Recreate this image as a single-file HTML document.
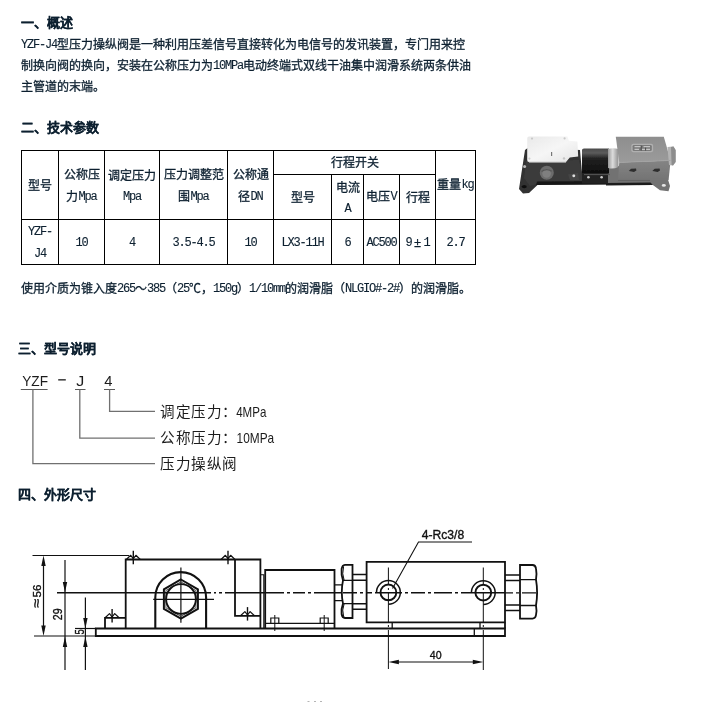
<!DOCTYPE html>
<html lang="zh-CN">
<head>
<meta charset="utf-8">
<title>YZF-J4型压力操纵阀</title>
<style>
html,body{margin:0;padding:0;background:#fff;}
#pg{position:absolute;left:0;top:0;width:721px;height:702px;will-change:transform;transform:translateZ(0);}
body{width:721px;height:702px;position:relative;overflow:hidden;
  font-family:"Liberation Sans",sans-serif;font-size:12px;color:#0d2030;-webkit-text-stroke:0.3px #0d2030;}
.abs{position:absolute;white-space:nowrap;}
h3{position:absolute;margin:0;left:21px;font-size:13px;line-height:16px;font-weight:bold;white-space:nowrap;color:#0d2030;-webkit-text-stroke:0.2px #0d2030;}
p.t{position:absolute;margin:0;left:21px;line-height:21px;white-space:nowrap;}
p.t span.l{display:block;height:21px;}
.m{font-family:"Liberation Mono",monospace;font-size:12px;letter-spacing:-1.2px;-webkit-text-stroke:0.12px #0d2030;position:relative;top:-1px;}
/* table */
.tb{position:absolute;left:21px;top:150px;width:455px;height:115px;}
.tb i{position:absolute;background:#000;display:block;}
.c{position:absolute;box-sizing:border-box;padding-top:3px;text-align:center;line-height:22px;white-space:nowrap;display:flex;align-items:center;justify-content:center;flex-direction:column;}
.c > span{display:block;}
.pm{display:inline-block;width:12px;text-align:center;}
svg{position:absolute;left:0;top:0;}
</style>
</head>
<body>
<div id="pg">

<h3 style="top:15px">一、概述</h3>
<p class="t" style="top:35px">
<span class="l"><span class="m">YZF-J4</span>型压力操纵阀是一种利用压差信号直接转化为电信号的发讯装置，专门用来控</span>
<span class="l">制换向阀的换向，安装在公称压力为<span class="m">10MPa</span>电动终端式双线干油集中润滑系统两条供油</span>
<span class="l">主管道的末端。</span>
</p>

<h3 style="top:120px">二、技术参数</h3>

<div class="tb">
  <i style="left:0;top:0;width:455px;height:1px"></i>
  <i style="left:252px;top:24px;width:163px;height:1px"></i>
  <i style="left:0;top:69px;width:455px;height:1px"></i>
  <i style="left:0;top:114px;width:455px;height:1px"></i>
  <i style="left:0px;top:0;width:1px;height:115px"></i>
  <i style="left:37px;top:0;width:1px;height:115px"></i>
  <i style="left:83px;top:0;width:1px;height:115px"></i>
  <i style="left:138px;top:0;width:1px;height:115px"></i>
  <i style="left:206px;top:0;width:1px;height:115px"></i>
  <i style="left:252px;top:0;width:1px;height:115px"></i>
  <i style="left:310px;top:24px;width:1px;height:91px"></i>
  <i style="left:342px;top:24px;width:1px;height:91px"></i>
  <i style="left:378px;top:24px;width:1px;height:91px"></i>
  <i style="left:414px;top:0;width:1px;height:115px"></i>
  <i style="left:454px;top:0;width:1px;height:115px"></i>
  <div class="c" style="left:1px;top:1px;width:36px;height:68px;padding-top:1px"><span>型号</span></div>
  <div class="c" style="left:38px;top:1px;width:45px;height:68px"><span>公称压</span><span>力<span class="m">Mpa</span></span></div>
  <div class="c" style="left:84px;top:1px;width:54px;height:68px"><span>调定压力</span><span class="m">Mpa</span></div>
  <div class="c" style="left:139px;top:1px;width:67px;height:68px"><span>压力调整范</span><span>围<span class="m">Mpa</span></span></div>
  <div class="c" style="left:207px;top:1px;width:45px;height:68px"><span>公称通</span><span>径<span class="m">DN</span></span></div>
  <div class="c" style="left:253px;top:1px;width:161px;height:23px;padding-top:1px"><span>行程开关</span></div>
  <div class="c" style="left:253px;top:25px;width:57px;height:44px;padding-top:1px"><span>型号</span></div>
  <div class="c" style="left:311px;top:25px;width:31px;height:44px"><span>电流</span><span class="m">A</span></div>
  <div class="c" style="left:343px;top:25px;width:35px;height:44px;padding-top:1px"><span>电压<span class="m">V</span></span></div>
  <div class="c" style="left:379px;top:25px;width:35px;height:44px;padding-top:1px"><span>行程</span></div>
  <div class="c" style="left:415px;top:1px;width:39px;height:68px;padding-top:1px"><span>重量<span class="m">kg</span></span></div>
  <div class="c" style="left:1px;top:70px;width:36px;height:44px"><span class="m">YZF-</span><span class="m">J4</span></div>
  <div class="c" style="left:38px;top:70px;width:45px;height:44px"><span class="m">10</span></div>
  <div class="c" style="left:84px;top:70px;width:54px;height:44px"><span class="m">4</span></div>
  <div class="c" style="left:139px;top:70px;width:67px;height:44px"><span class="m">3.5-4.5</span></div>
  <div class="c" style="left:207px;top:70px;width:45px;height:44px"><span class="m">10</span></div>
  <div class="c" style="left:253px;top:70px;width:57px;height:44px"><span class="m">LX3-11H</span></div>
  <div class="c" style="left:311px;top:70px;width:31px;height:44px"><span class="m">6</span></div>
  <div class="c" style="left:343px;top:70px;width:35px;height:44px"><span class="m">AC500</span></div>
  <div class="c" style="left:379px;top:70px;width:35px;height:44px"><span><span class="m">9</span><span class="pm">±</span><span class="m">1</span></span></div>
  <div class="c" style="left:415px;top:70px;width:39px;height:44px"><span class="m">2.7</span></div>
</div>

<p class="t" style="top:279px"><span class="l">使用介质为锥入度<span class="m">265</span>～<span class="m">385</span>（<span class="m">25</span>℃，<span class="m">150g</span>）<span class="m">1/10mm</span>的润滑脂（<span class="m">NLGIO#-2#</span>）的润滑脂。</span></p>

<h3 style="top:341px;left:18px">三、型号说明</h3>


<!-- model designation diagram -->
<svg id="dg" width="721" height="702" viewBox="0 0 721 702" style="font-family:'Liberation Sans',sans-serif">
  <g fill="#1c1c1c">
    <text x="22.2" y="385.7" font-size="15" textLength="25.8" lengthAdjust="spacingAndGlyphs">YZF</text>
    <rect x="58.2" y="379.2" width="7.6" height="1.3"/>
    <text x="76.3" y="385.7" font-size="15" textLength="8" lengthAdjust="spacingAndGlyphs">J</text>
    <text x="104.2" y="385.7" font-size="15" textLength="8.2" lengthAdjust="spacingAndGlyphs">4</text>
  </g>
  <g stroke="#5a5a5a" stroke-width="1.2" fill="none">
    <path d="M20.8 389.5H47.6M75 389.5H85.5M104 389.5H115"/>
  </g>
  <g stroke="#707070" stroke-width="1.3" fill="none">
    <path d="M32.9 389.5V463.6H155"/>
    <path d="M79.8 389.5V438.2H155"/>
    <path d="M109.6 389.5V411.4H155"/>
  </g>
  <g fill="#1c1c1c" font-size="14.6">
    <text y="417" x="160 175.5 191 206.5 222">调定压力：</text>
    <text y="416.8" x="236.2" font-size="14.6" textLength="30.2" lengthAdjust="spacingAndGlyphs">4MPa</text>
    <text y="443" x="160 175.5 191 206.5 222">公称压力：</text>
    <text y="442.8" x="236.6" font-size="14.6" textLength="37.6" lengthAdjust="spacingAndGlyphs">10MPa</text>
    <text y="469" x="160 175.5 191 206.5 222">压力操纵阀</text>
  </g>
  <path d="M307.5 701.5h2M314 701.5h2M320 701.5h2" stroke="#b5b5b5" stroke-width="1" fill="none"/>
</svg>

<h3 style="top:487px;left:18px">四、外形尺寸</h3>


<!-- outline dimension drawing -->
<svg id="dw" width="721" height="702" viewBox="0 0 721 702" style="font-family:'Liberation Sans',sans-serif">
  <g stroke="#111" fill="none" stroke-width="1.2">
    <path d="M32.5 555.5H129"/>
    <path d="M34 636H96"/>
    <path d="M75 628.5H96"/>
    <path d="M43.5 560V631"/>
    <path d="M65 560V670"/>
    <path d="M85.4 597.5V670"/>
    <path d="M57 592.8H211M214 592.8h2M219 592.8h3M225 592.8H284" stroke-width="1.5"/>
    <path d="M287 592.8h3M293 592.8H305M308 592.8h3M314 592.8H341" stroke-width="1.4"/>
    <path d="M343 592.8H357M360 592.8h3M366 592.8H372M375 592.8H402M405 592.8h3M411 592.8H425M428 592.8h3M434 592.8H452M455 592.8h3M461 592.8H505" stroke-width="1.4"/>
    <path d="M505 592.8H513M516 592.8h3M522 592.8H536" stroke-width="1.3"/>
    <path d="M153.2 599.3H214"/>
    <path d="M180.9 567.4V622.7"/>
    <path d="M388.4 567.5V585M388.4 588v2M388.4 593V622M388.4 625v2M388.4 630V669" stroke-width="1"/>
    <path d="M483.3 567.5V585M483.3 588v2M483.3 593V622M483.3 625v2M483.3 630V670" stroke-width="1"/>
    <path d="M472 542H418.5L392.5 588.5" stroke-width="1.1"/>
    <path d="M394 662H478"/>
  </g>
  <g fill="#111" stroke="none">
    <path d="M43.5 555.5L41.3 566L45.7 566Z"/><path d="M43.5 636L41.3 625.5L45.7 625.5Z"/>
    <path d="M65 592.6L62.8 582.1L67.2 582.1Z"/><path d="M65 636.6L62.8 647.1L67.2 647.1Z"/>
    <path d="M85.4 628.5L83.2 618L87.6 618Z"/><path d="M85.4 636.6L83.2 647.1L87.6 647.1Z"/>
    <path d="M388.4 662L398.9 659.8L398.9 664.2Z"/><path d="M483.3 662L472.8 659.8L472.8 664.2Z"/>
  </g>
  <g stroke="#111" fill="none" stroke-width="1.8" stroke-linejoin="miter">
    <path d="M95.8 628.5H505V636H95.8Z"/>
    <path d="M105 628.5V617.8H125.7"/>
    <path d="M125.7 628.5V559.5H260.4V628.5"/>
    <path d="M235 559.5V615.8H260.4"/>
    <path d="M155.3 628.5V597.5A25.4 25.4 0 0 1 206.1 597.5V628.5" stroke-width="2.1"/>
    <path d="M180.9 579.5L197.9 589.3L197.9 608.9L180.9 618.7L163.9 608.9L163.9 589.3Z" stroke-width="2"/>
    <path d="M180.9 581.8L195.9 590.5L195.9 607.8L180.9 616.4L165.9 607.8L165.9 590.5Z" stroke-width="0.7"/>
    <circle cx="181" cy="599" r="14.9" stroke-width="1.9"/>
    <path d="M260.4 574.7H263.8V628.5" stroke-width="1.1"/>
    <path d="M265.2 628.5V570H334.5V628.5"/>
    <path d="M265.2 623.4H334.5" stroke-width="1.2"/>
    <path d="M270.8 623V618H278.8V623M320.2 623V618H328.2V623" stroke-width="1.2"/>
    <path d="M274.8 615V631M324.2 615V631" stroke-width="1"/>
    <path d="M334.5 584.8H342M334.5 600.6H342" stroke-width="1.3"/>
    <path d="M352.5 564.8H345Q342.2 565 341.6 569Q341 575 343 580.4Q340.6 592 343 603.6Q341 609 341.6 614Q342.2 617.8 345 618H352.5Z"/>
    <path d="M343.6 566.5Q341.6 574 344.2 580.4M344.2 603.6Q341.6 610 343.6 616.5" stroke-width="1"/>
    <path d="M343 580.4H352.5M343 603.6H352.5" stroke-width="1.3"/>
    <path d="M352.5 574.6H366.5M352.5 580.2H366.5M352.5 603.8H366.5M352.5 609.3H366.5" stroke-width="1.5"/>
    <path d="M366.6 561.9H505V622.4H366.6Z"/>
    <path d="M392.2 622.4V628.5M480 622.4V628.5M474.3 628.5V636" stroke-width="1.3"/>
    <path d="M505 622.4V628.5"/>
    <circle cx="388.4" cy="592.4" r="7.9" stroke-width="1.9"/>
    <path d="M376.5 592.4A11.9 11.9 0 1 1 388.4 604.3" stroke-width="1.5"/>
    <circle cx="483.3" cy="592.6" r="7.9" stroke-width="1.9"/>
    <path d="M471.4 592.6A11.9 11.9 0 1 1 483.3 604.5" stroke-width="1.5"/>
    <path d="M505 575H520M505 580.5H520M505 605H520M505 610.5H520" stroke-width="1.3"/>
    <path d="M520 565H532.5Q535.5 565 536 568.5Q537 574 536 579.7Q538.2 592.5 536 605.5Q537 611 536 615Q535.5 618.6 532.5 618.6H520Z"/>
    <path d="M520 579.7H536M520 605.5H536" stroke-width="1.3"/>
    <path d="M126.3 559.5L130.7 555.3L133.3 558.7L135.9 555.3L140.3 559.5" stroke-width="1.2" stroke-linejoin="round"/><path d="M133.3 550.8V564.3" stroke-width="1.4"/>
    <path d="M221 559.5L225.4 555.3L228 558.7L230.6 555.3L235 559.5" stroke-width="1.2" stroke-linejoin="round"/><path d="M228 550.8V564.3" stroke-width="1.4"/>
    <path d="M240.5 615.8L244.9 611.6L247.5 615L250.1 611.6L254.5 615.8" stroke-width="1.2" stroke-linejoin="round"/><path d="M247.5 607.1V620.6" stroke-width="1.4"/>
    <path d="M105.1 617.8L109.5 613.6L112.1 617L114.7 613.6L119.1 617.8" stroke-width="1.2" stroke-linejoin="round"/><path d="M112.1 609.1V622.6" stroke-width="1.4"/>
  </g>
  <g fill="#111" stroke="#111" stroke-width="0.35">
    <text x="421.8" y="538.8" font-size="12" textLength="42.4" lengthAdjust="spacingAndGlyphs">4-Rc3/8</text>
    <text x="429.8" y="658.9" font-size="11.6" textLength="11.8" lengthAdjust="spacingAndGlyphs">40</text>
    <text transform="translate(41.4,607.8) rotate(-90)" font-size="13.5" textLength="9" lengthAdjust="spacingAndGlyphs">≈</text>
    <text transform="translate(41.4,597.4) rotate(-90)" font-size="11" textLength="12.8" lengthAdjust="spacingAndGlyphs">56</text>
    <text transform="translate(61.5,620.2) rotate(-90)" font-size="12.4" textLength="11.8" lengthAdjust="spacingAndGlyphs">29</text>
    <text transform="translate(83.6,634.6) rotate(-90)" font-size="12.4" textLength="5.2" lengthAdjust="spacingAndGlyphs">5</text>
  </g>
</svg>
<!-- product photo (vector approximation) -->
<svg id="ph" width="721" height="702" viewBox="0 0 721 702">
  <defs>
    <filter id="b1" x="-10%" y="-20%" width="120%" height="140%"><feGaussianBlur stdDeviation="0.55"/></filter>
    <filter id="b2" x="-20%" y="-20%" width="140%" height="140%"><feGaussianBlur stdDeviation="0.5"/></filter>
    <linearGradient id="gcyl" x1="0" y1="0" x2="0" y2="1">
      <stop offset="0" stop-color="#4a4a4a"/><stop offset="0.18" stop-color="#5c5c5c"/>
      <stop offset="0.4" stop-color="#222"/><stop offset="1" stop-color="#0d0d0d"/>
    </linearGradient>
    <linearGradient id="gcov" x1="0" y1="0" x2="1" y2="1">
      <stop offset="0" stop-color="#e9e9e9"/><stop offset="0.5" stop-color="#f6f6f6"/><stop offset="1" stop-color="#e4e4e4"/>
    </linearGradient>
    <linearGradient id="gtop" x1="0" y1="0" x2="0" y2="1">
      <stop offset="0" stop-color="#8e8e8e"/><stop offset="1" stop-color="#9b9b9b"/>
    </linearGradient>
    <linearGradient id="gfront" x1="0" y1="0" x2="0" y2="1">
      <stop offset="0" stop-color="#848484"/><stop offset="1" stop-color="#747474"/>
    </linearGradient>
    <linearGradient id="gring" x1="0" y1="0" x2="1" y2="0">
      <stop offset="0" stop-color="#9a9a9a"/><stop offset="0.45" stop-color="#dcdcdc"/><stop offset="1" stop-color="#909090"/>
    </linearGradient>
  </defs>
  <g filter="url(#b1)">
    <!-- base plate & left foot (dark) -->
    <path d="M525 150L529 147L580 150L582 173L608 173L608 184.3L538 184.6L529 193L523 193.5L519 189Z" fill="#303030"/>
    <!-- base plate lighter band on right part -->
    <path d="M607.5 166L619 166L619 179L668 179.5L670 186L668.5 191.3L660 190.3L650.5 183.2L607.5 183.6Z" fill="#727272"/>
    <!-- left body front face -->
    <path d="M526 161L579 160L582 174L582 183.5L538 184L530 186L524 178Z" fill="#3b3b3b"/>
    <path d="M537 181.4L608 181L608 184.6L536 185Z" fill="#181818"/>
    <!-- black solenoid cylinder -->
    <path d="M582 150Q582 148.4 584 148.4L609 148.4L609 173.6L582 173.6Z" fill="url(#gcyl)"/>
    <!-- under-cylinder base -->
    <path d="M582 173.6L608 173.6L608 183.7L582 183.8Z" fill="#222"/>
    <!-- connector ring -->
    <path d="M608 149Q613 147.4 618.5 149L618.5 167Q613 169.5 608 168Z" fill="url(#gring)"/>
    <path d="M606 183L650.5 182.6L653 185L606 185.6Z" fill="#1e1e1e"/>
    <!-- right block: top face -->
    <path d="M615.8 136.8L663.8 136.8L670.6 160.4L619.2 162.4Z" fill="url(#gtop)"/>
    <!-- right block: front face -->
    <path d="M619.2 162.4L670.6 160.4L668.6 180L618 180Z" fill="url(#gfront)"/>
    <!-- right nut -->
    <path d="M667.5 147L673.5 146.4L675.6 150L675.6 162L673 165.4L669 165Z" fill="#b4b4b4"/>
    <path d="M671 147L673.5 146.4L675.6 150L675.6 162L673 165.4L671.6 165Z" fill="#8d8d8d"/>
    <!-- white cover -->
    <path d="M527.2 138.5Q527.2 136.6 529 136.6L567.4 136.6L569 140.8L577.4 141.6L578.2 156.4L569.8 157.6L566 161.9L529 161.9Q527.2 161.9 527.2 160Z" fill="url(#gcov)"/>
  </g>
  <g filter="url(#b2)">
    <!-- cover details -->
    <path d="M551.6 152v4" stroke="#777" stroke-width="1.2" fill="none"/>
    <circle cx="532" cy="138.6" r="1.1" fill="#c9c9c9"/><circle cx="564.6" cy="138.4" r="1.1" fill="#c9c9c9"/>
    <circle cx="529.4" cy="158.6" r="1.1" fill="#cfcfcf"/><circle cx="564" cy="158.4" r="1.2" fill="#c4c4c4"/>
    <path d="M529 162.2L566 162.2" stroke="#bdbdbd" stroke-width="1" fill="none"/>
    <!-- left port -->
    <circle cx="546.8" cy="172.8" r="7" fill="#6c6c6c"/>
    <circle cx="546.6" cy="173.4" r="4.3" fill="#7f7f7f"/>
    <path d="M541.5 171.5Q546.5 167.8 551.8 171.2" stroke="#585858" stroke-width="1.2" fill="none"/>
    <!-- bolts / highlights -->
    <circle cx="524.6" cy="166.6" r="1.5" fill="#bdbdbd"/>
    <circle cx="573.8" cy="175.8" r="1.5" fill="#d8d8d8"/>
    <path d="M568 174.5L578 173L579 180L570 180Z" fill="#4a4a4a" opacity="0.7"/>
    <circle cx="573.8" cy="175.8" r="1.4" fill="#dedede"/>
    <circle cx="588.4" cy="177.2" r="1.3" fill="#cfcfcf"/>
    <circle cx="601.6" cy="177.2" r="1.3" fill="#cfcfcf"/>
    <path d="M584 174.6H610" stroke="#555" stroke-width="1" fill="none"/>
    <!-- left foot hole -->
    <ellipse cx="524.2" cy="186.6" rx="2.6" ry="1.6" fill="#111"/>
    <!-- label plate on top face -->
    <rect x="631.3" y="143.8" width="21.8" height="8.4" rx="2" fill="#b0b0b0"/>
    <rect x="632.6" y="144.9" width="19.2" height="6.2" rx="1.4" fill="#7a7a7a"/>
    <path d="M634.5 146.6H641M643.5 146.6H650M634.5 149.4H639M641.5 149.4H650" stroke="#c4c4c4" stroke-width="1.1" fill="none"/>
    <path d="M641.2 145.6V150.6M645.6 147.6V150.6" stroke="#4a4a4a" stroke-width="1" fill="none"/>
    <!-- front slots -->
    <path d="M628.8 171L631 168.8L636 168.4L636.4 170.4L634 172Z" fill="#2e2e2e"/>
    <path d="M652.4 171L654.6 168.8L659.6 168.4L660 170.4L657.6 172Z" fill="#2e2e2e"/>
    <!-- right foot hole -->
    <ellipse cx="663.8" cy="185.4" rx="2" ry="1.4" fill="#e6e6e6"/>
    <!-- block edge highlight -->
    <path d="M619.2 162.4L670.6 160.4" stroke="#a3a3a3" stroke-width="0.9" fill="none"/>
    <path d="M618 180.4H650" stroke="#5e5e5e" stroke-width="0.9" fill="none"/>
  </g>
</svg>


</div>
</body>
</html>
